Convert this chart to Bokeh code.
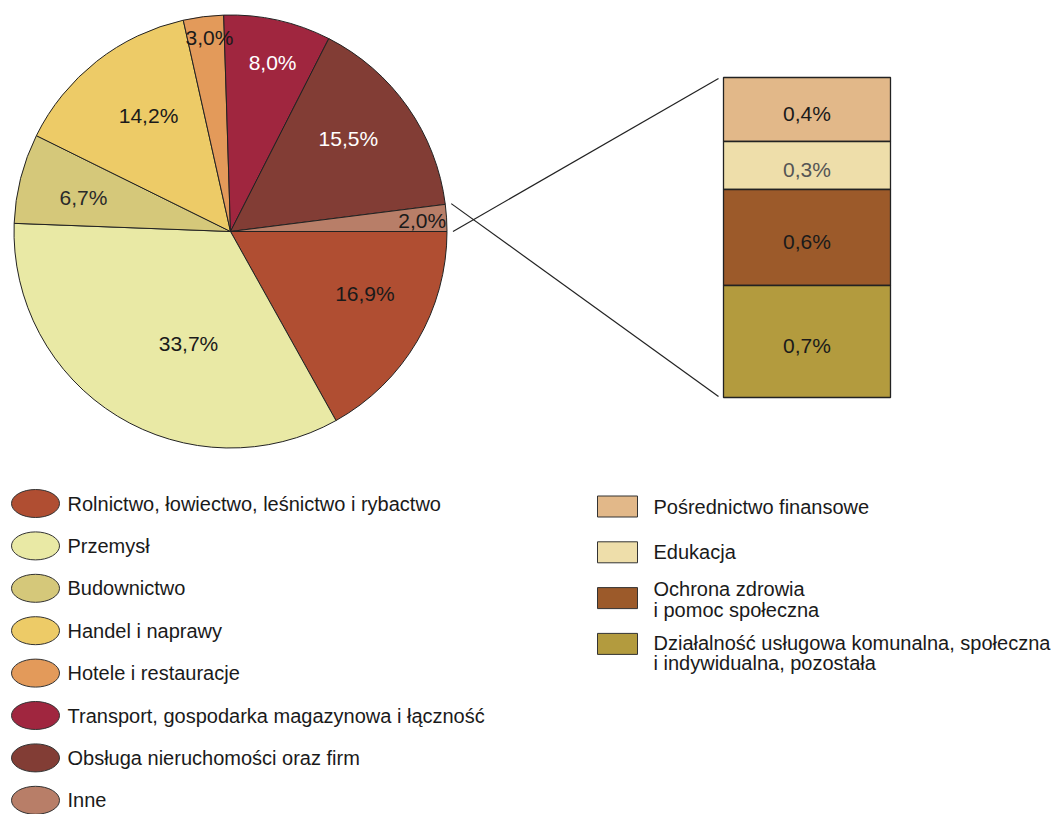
import numpy as np
from bokeh.plotting import figure
from bokeh.models import Range1d
from bokeh.embed import file_html
from bokeh.resources import INLINE
from bokeh.core.properties import value

# ---------------- data ----------------
pie_labels = [
    "Rolnictwo, łowiectwo, leśnictwo i rybactwo",
    "Przemysł",
    "Budownictwo",
    "Handel i naprawy",
    "Hotele i restauracje",
    "Transport, gospodarka magazynowa i łączność",
    "Obsługa nieruchomości oraz firm",
    "Inne",
]
pie_values = [16.9, 33.7, 6.7, 14.2, 3.0, 8.0, 15.5, 2.0]
pie_colors = ["#B04E32", "#E9E9A5", "#D5C87A", "#EDCB67", "#E39A5A", "#A0263F", "#823D35", "#B87E68"]
pie_text_colors = ["#1a1a1a", "#1a1a1a", "#2a2a2a", "#1a1a1a", "#1a1a1a", "#ffffff", "#ffffff", "#1a1a1a"]

bar_labels = [
    "Pośrednictwo finansowe",
    "Edukacja",
    "Ochrona zdrowia\ni pomoc społeczna",
    "Działalność usługowa komunalna, społeczna\ni indywidualna, pozostała",
]
bar_values = [0.4, 0.3, 0.6, 0.7]
bar_colors = ["#E2B889", "#EEDEAA", "#9C5A2A", "#B39B3E"]
bar_text_colors = ["#1a1a1a", "#555555", "#1a1a1a", "#1a1a1a"]

# label placement styling (radius in px, angle nudge in degrees)
label_r = [148, 120, 151, 142, 195, 174, 150, 192]
label_nudge = [5.7, 11.0, 1.2, -2.9, -1.0, -1.4, 3.1, -0.3]
legend2_dy = [0, 0, -9, -1]


def fmt(v):
    return f"{v:.1f}".replace(".", ",") + "%"


# ---------------- layout ----------------
W, H = 1052, 814


def X(rx):
    return rx


def Y(ry):
    return H - ry


FONT = value("Liberation Sans")

p = figure(width=W, height=H, x_range=Range1d(0, W), y_range=Range1d(0, H),
           output_backend="svg", toolbar_location=None, min_border=0,
           x_axis_type=None, y_axis_type=None)
p.grid.visible = False
p.outline_line_color = None
p.background_fill_color = "white"
p.border_fill_color = "white"

# ---------------- pie ----------------
cx, cy, R = X(230), Y(231), 216.5
vals = np.array(pie_values)
cum = np.concatenate([[0], np.cumsum(vals)]) / vals.sum()
start = -cum[1:] * 2 * np.pi
end = -cum[:-1] * 2 * np.pi
p.wedge(x=[cx] * len(vals), y=[cy] * len(vals), radius=R,
        start_angle=list(start), end_angle=list(end),
        fill_color=pie_colors, line_color="#222222", line_width=1)

mid = (start + end) / 2 + np.radians(label_nudge)
lx = cx + np.array(label_r) * np.cos(mid)
ly = cy + np.array(label_r) * np.sin(mid)
p.text(x=list(lx), y=list(ly), text=[fmt(v) for v in pie_values],
       text_color=pie_text_colors, text_font=FONT, text_font_size=value("21px"),
       text_align="center", text_baseline="middle")

# ---------------- stacked bar ----------------
bl, br, btop, bbot = X(723), X(890), Y(77), Y(397)
bv = np.array(bar_values)
scale = (btop - bbot) / bv.sum()
bcum = np.concatenate([[0], np.cumsum(bv)])
tops = btop - bcum[:-1] * scale
bots = btop - bcum[1:] * scale
p.quad(left=[bl] * len(bv), right=[br] * len(bv), top=list(tops), bottom=list(bots),
       fill_color=bar_colors, line_color="#222222", line_width=1.3)
p.text(x=[(bl + br) / 2] * len(bv), y=list((tops + bots) / 2 - 4),
       text=[fmt(v) for v in bar_values], text_color=bar_text_colors,
       text_font=FONT, text_font_size=value("21px"),
       text_align="center", text_baseline="middle")

# connector lines from "Inne" slice to bar
a1, a2 = start[-1], end[-1]
rr = R + 6
p.line(x=[cx + rr * np.cos(a1), bl - 5], y=[cy + rr * np.sin(a1), btop - 1],
       line_color="#222222", line_width=1.2)
p.line(x=[cx + rr * np.cos(a2), bl - 5], y=[cy + rr * np.sin(a2), bbot + 1],
       line_color="#222222", line_width=1.2)

# ---------------- left legend ----------------
n1 = len(pie_labels)
ly1 = [Y(503 + i * 42.4) for i in range(n1)]
p.ellipse(x=[X(35)] * n1, y=ly1, width=48, height=28,
          fill_color=pie_colors, line_color="#333333", line_width=1)
p.text(x=[X(67)] * n1, y=ly1, text=pie_labels,
       text_color="#1a1a1a", text_font=FONT, text_font_size=value("20px"),
       text_align="left", text_baseline="middle")

# ---------------- right legend ----------------
n2 = len(bar_labels)
ry = [Y(506 + i * 45.8) for i in range(n2)]
p.rect(x=[X(617)] * n2, y=ry, width=40, height=21,
       fill_color=bar_colors, line_color="#333333", line_width=1)
tx, tyy, tt = [], [], []
for i, lab in enumerate(bar_labels):
    for j, line in enumerate(lab.split("\n")):
        tx.append(X(653))
        tyy.append(ry[i] - legend2_dy[i] - j * 20.5)
        tt.append(line)
p.text(x=tx, y=tyy, text=tt, text_color="#1a1a1a", text_font=FONT,
       text_font_size=value("20px"), text_align="left", text_baseline="middle")

open("out.html", "w").write(file_html(p, INLINE))
